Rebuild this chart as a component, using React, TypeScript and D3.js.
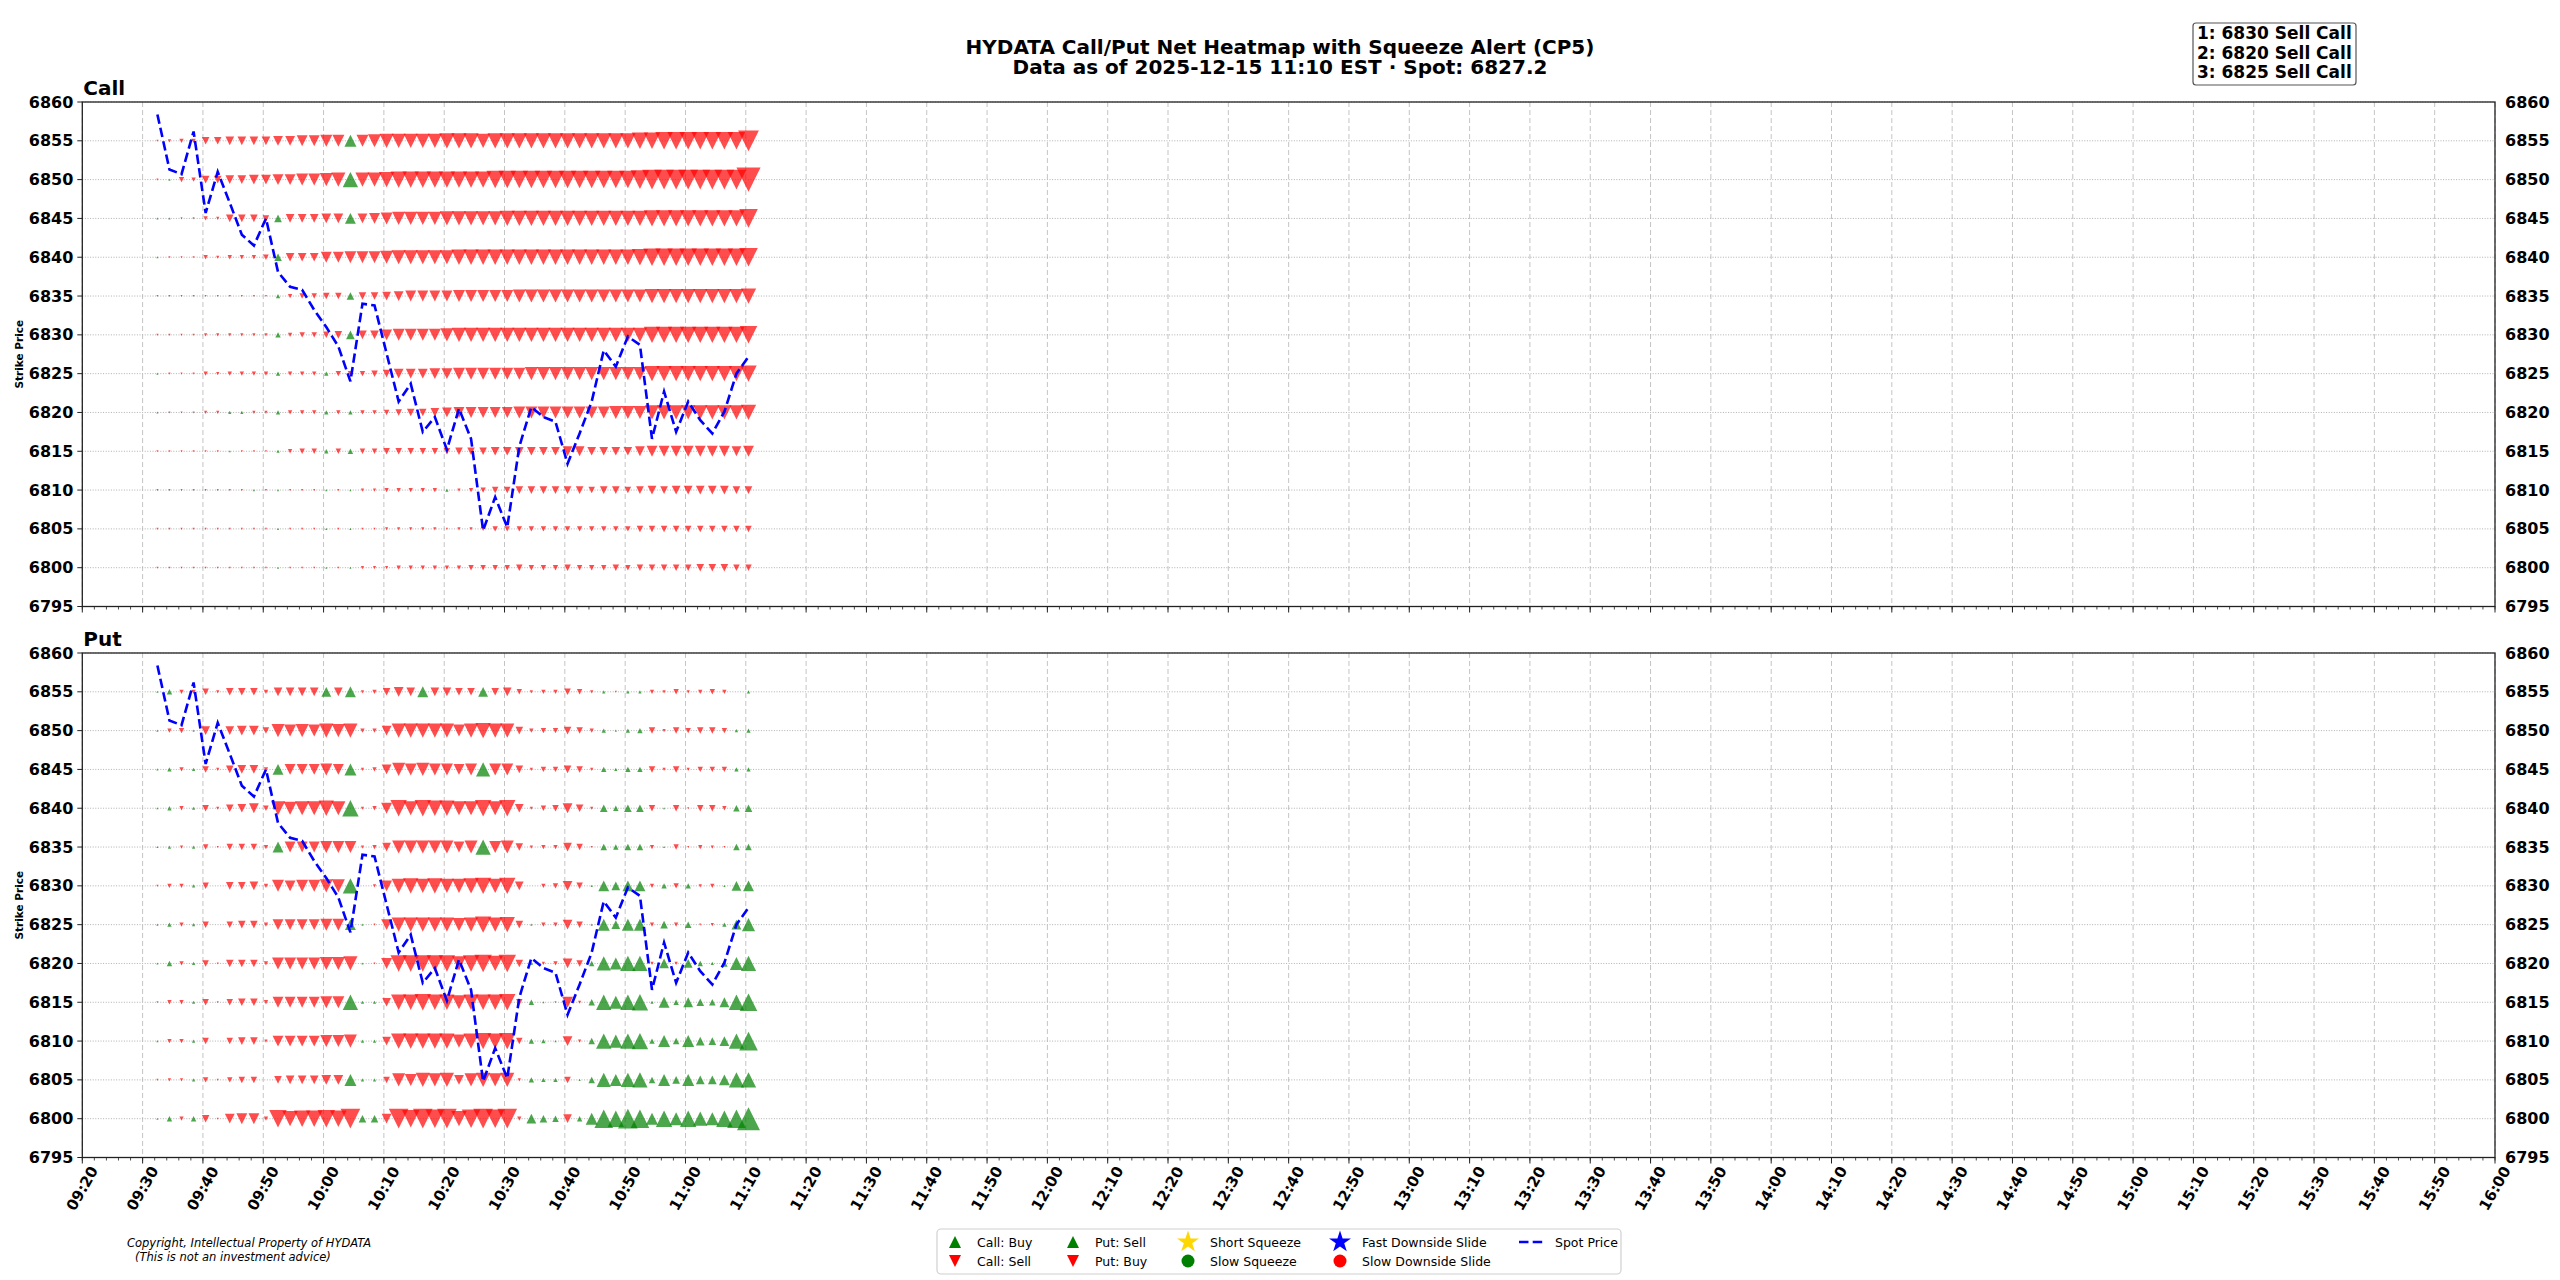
import React from "react";
import * as d3 from "d3";

// snapshot times (each snapshot is stamped ~27s into the minute)
const TIMES = [
  "09:32", "09:34", "09:36", "09:38", "09:40", "09:42", "09:44", "09:46", "09:48", "09:50",
  "09:52", "09:54", "09:56", "09:58", "10:00", "10:02", "10:04", "10:06", "10:08", "10:10",
  "10:12", "10:14", "10:16", "10:18", "10:20", "10:22", "10:24", "10:26", "10:28", "10:30",
  "10:32", "10:34", "10:36", "10:38", "10:40", "10:42", "10:44", "10:46", "10:48", "10:50",
  "10:52", "10:54", "10:56", "10:58", "11:00", "11:02", "11:04", "11:06", "11:08", "11:10",
];
const SNAP_SECONDS = 27;

const SPOT = [
  6858.4, 6851.3, 6850.7, 6856.2, 6845.7, 6851.0, 6847.0, 6842.9, 6841.5, 6845.0,
  6838.1, 6836.2, 6835.8, 6833.2, 6831.0, 6828.5, 6824.0, 6834.0, 6833.8, 6827.6,
  6821.4, 6823.7, 6817.5, 6819.4, 6815.2, 6820.5, 6816.6, 6804.8, 6809.1, 6805.2,
  6815.6, 6820.7, 6819.4, 6818.8, 6813.4, 6817.3, 6821.4, 6828.0, 6825.9, 6829.8,
  6828.7, 6816.6, 6822.7, 6817.5, 6821.4, 6819.0, 6817.3, 6820.1, 6825.0, 6827.2,
];

const STRIKES = [6855, 6850, 6845, 6840, 6835, 6830, 6825, 6820, 6815, 6810, 6805, 6800];
const Y_TICKS = [6795, 6800, 6805, 6810, 6815, 6820, 6825, 6830, 6835, 6840, 6845, 6850, 6855, 6860];

// net flow per strike, one value per snapshot (+ = up triangle / green, - = down / red)
const CALL_6855 = [-1, -4, -9, -9, -36, -36, -49, -49, -49, -49, -64, -64, -81, -81, -100, -100, 100, -100, -121, -144, -144, -144, -144, -144, -169, -169, -169, -144, -169, -169, -169, -169, -169, -169, -169, -169, -169, -169, -169, -169, -196, -196, -225, -225, -225, -225, -225, -225, -225, -324];
const CALL_6850 = [-1, 1, -16, -9, -36, -36, -49, -49, -64, -64, -81, -81, -100, -100, -121, -144, 169, -144, -144, -169, -196, -196, -196, -196, -196, -196, -196, -196, -225, -225, -225, -225, -225, -225, -225, -225, -225, -225, -225, -225, -256, -289, -289, -289, -289, -289, -289, -289, -289, -441];
const CALL_6845 = [1, 1, -1, -1, -9, -4, -36, -36, -36, -25, 36, -49, -49, -49, -64, -64, 81, -64, -81, -100, -121, -121, -121, -121, -144, -144, -144, -144, -144, -169, -169, -169, -169, -169, -169, -169, -169, -169, -169, -169, -169, -196, -196, -196, -196, -196, -196, -196, -196, -256];
const CALL_6840 = [1, -1, -1, -1, -9, -4, -9, -9, -9, -16, 36, -49, -49, -49, -81, -81, -100, -100, -100, -121, -144, -144, -144, -144, -144, -169, -169, -169, -169, -169, -169, -169, -169, -169, -169, -169, -169, -169, -169, -169, -196, -225, -225, -225, -225, -225, -225, -225, -225, -256];
const CALL_6835 = [-1, -1, -1, -1, -1, -1, -1, -1, -1, -1, 9, -9, -16, -16, -25, -25, 36, -36, -36, -49, -64, -81, -81, -81, -81, -100, -100, -100, -100, -100, -121, -121, -121, -121, -121, -121, -121, -121, -121, -121, -121, -144, -144, -144, -144, -144, -144, -144, -144, -169];
const CALL_6830 = [-1, -1, -1, -1, -4, -4, -4, -4, -4, -4, 16, -9, -16, -16, -25, -36, 49, -49, -49, -81, -100, -100, -100, -100, -121, -144, -144, -144, -144, -144, -144, -144, -144, -144, -144, -144, -144, -144, -144, -144, -144, -196, -196, -196, -196, -196, -196, -196, -196, -225];
const CALL_6825 = [1, -1, -1, -1, -9, -4, -9, -9, -9, -9, 9, -9, -9, -9, 9, -16, -16, -16, -25, -36, -64, -64, -64, -81, -81, -100, -100, -100, -100, -100, -100, -121, -121, -121, -121, -121, -121, -121, -121, -121, -121, -169, -169, -169, -169, -169, -169, -169, -169, -196];
const CALL_6820 = [1, -1, -1, -1, -4, -4, 4, 4, -4, -4, 9, -9, -9, -9, 9, -9, 9, -9, -9, -16, -25, -36, -36, -49, -64, -81, -81, -81, -81, -81, -100, -100, -100, -100, -100, -100, -100, -100, -121, -121, -121, -144, -144, -144, -144, -144, -144, -144, -144, -169];
const CALL_6815 = [-1, -1, -1, -1, -1, -1, 1, -1, -1, -1, 4, -9, -16, -16, 9, -16, 16, -16, -16, -25, -25, -25, -25, -25, -25, -36, -36, -36, -49, -49, -49, -49, -49, -49, -64, -64, -49, -49, -49, -49, -64, -81, -81, -81, -81, -81, -81, -81, -64, -81];
const CALL_6810 = [-1, -1, -1, -1, -1, -1, -1, -1, 1, -1, 1, -1, -1, -1, 1, -1, 1, -4, -4, -9, -9, -9, -9, -9, 4, -4, -9, -16, -25, -25, -36, -36, -36, -36, -36, -36, -25, -36, -36, -25, -36, -49, -36, -49, -49, -49, -49, -49, -36, -36];
const CALL_6805 = [-1, -1, -1, -1, -1, -1, -1, -1, -1, -1, 1, -1, -1, -1, 1, -1, 1, -1, -1, -4, -4, -4, -4, -4, -1, -4, -4, -9, -16, -16, -16, -16, -16, -16, -16, -16, -16, -16, -16, -16, -25, -25, -25, -25, -25, -25, -25, -25, -25, -25];
const CALL_6800 = [-1, -1, -1, -1, -1, -1, -1, -1, -1, -1, 1, -1, -1, -1, 1, -1, 1, -4, -4, -4, -9, -9, -9, -9, -9, -9, -16, -16, -16, -16, -25, -16, -16, -16, -25, -16, -16, -16, -25, -16, -25, -25, -25, -25, -25, -36, -36, -36, -25, -25];

const PUT_6855 = [1, 16, -9, -9, -25, -4, -36, -36, -36, -9, -49, -49, -49, -49, 64, -49, 81, -4, -9, -36, -64, -49, 81, -49, -49, -36, -36, 64, -36, -49, -16, -4, -9, -9, -25, -16, -4, 4, -1, 4, 4, -9, -4, -16, -4, -9, -16, -9, 0, 4];
const PUT_6850 = [1, -9, -16, 1, -49, -1, -49, -64, -64, -25, -121, -100, -121, -100, -144, -121, -144, -9, -9, -64, -144, -144, -144, -144, -144, -100, -144, -169, -144, -144, -36, -9, -16, -16, -36, -25, -9, 9, 1, 9, 16, -25, -4, -25, -16, -25, -25, -16, 4, 9];
const PUT_6845 = [1, 9, -9, 4, -25, -4, -36, -49, -49, -9, 81, -81, -81, -81, -100, -81, 100, -4, -9, -64, -121, -100, -121, -100, -100, -81, -100, 144, -100, -100, -36, -4, -16, -16, -36, -25, -4, 16, 4, 16, 16, -25, -4, -25, -4, -16, -16, -16, 9, 9];
const PUT_6840 = [1, 9, -9, 4, -25, -4, -36, -49, -64, -16, -144, -121, -144, -144, -169, -144, 196, -4, -9, -81, -196, -144, -196, -169, -169, -144, -144, -196, -144, -196, -49, -4, -16, -25, -64, -36, -4, 36, 16, 36, 36, -25, 1, -25, -1, -25, -25, -9, 25, 36];
const PUT_6835 = [1, 4, -4, 4, -16, -1, -25, -25, -25, -9, 81, -81, -81, -81, -100, -100, -100, -4, -9, -49, -121, -121, -121, -121, -121, -81, -121, 169, -100, -121, -36, -4, -9, -9, -49, -25, -1, 25, 16, 25, 25, -9, 1, -16, -1, -9, -4, -1, 25, 25];
const PUT_6830 = [-1, -9, -9, 4, -25, 0, -36, -36, -49, -9, -100, -81, -100, -100, -121, -121, 169, 0, -4, -81, -144, -169, -144, -169, -144, -144, -169, -196, -144, -196, -49, 0, -9, -16, -64, -25, 1, 81, 49, 81, 81, -9, 16, -16, 16, -4, -9, 1, 64, 81];
const PUT_6825 = [1, 9, -9, 4, -25, 0, -25, -36, -36, -9, -81, -81, -81, -81, -100, -100, 81, 1, -1, -81, -144, -144, -144, -144, -144, -121, -144, -196, -144, -169, -36, 1, -9, -9, -64, -25, 1, 100, 49, 100, 100, -9, 36, -9, 25, -1, -4, 9, 64, 121];
const PUT_6820 = [1, 16, -9, 4, -25, -1, -36, -36, -36, -9, -100, -100, -100, -100, -121, -121, -144, 1, -1, -81, -196, -196, -196, -196, -196, -144, -196, -225, -169, -225, -36, 4, -4, -9, -64, -25, 16, 144, 100, 169, 169, -4, 64, -4, 49, 16, 4, 25, 121, 169];
const PUT_6815 = [-1, -9, -9, 4, -25, -1, -25, -36, -36, -9, -81, -81, -81, -81, -100, -100, 169, 4, 4, -49, -169, -169, -196, -169, -169, -144, -169, -169, -169, -196, -25, 16, 1, -1, -81, -4, 25, 169, 121, 169, 196, 4, 81, 16, 64, 36, 25, 64, 169, 225];
const PUT_6810 = [1, -9, -9, 4, -25, 0, -25, -36, -36, -4, -81, -81, -81, -81, -100, -100, -121, 4, 4, -49, -169, -169, -169, -169, -169, -121, -169, -196, -169, -196, -25, 16, 9, 1, -64, -4, 25, 169, 121, 169, 196, 16, 100, 25, 100, 49, 36, 64, 169, 256];
const PUT_6805 = [-1, -4, -4, 4, -16, -1, -16, -25, -25, 0, -36, -49, -49, -49, -64, -64, 100, 4, 4, -25, -121, -100, -144, -121, -144, -64, -121, -144, -121, -144, -4, 16, 9, 9, -25, 1, 25, 144, 100, 144, 169, 25, 100, 36, 100, 49, 49, 81, 169, 169];
const PUT_6800 = [1, 16, -9, 16, -36, -1, -64, -81, -81, -9, -225, -169, -196, -196, -225, -196, -289, 36, 36, -64, -289, -225, -289, -256, -289, -169, -256, -289, -256, -289, -9, 64, 36, 25, -49, 16, 100, 256, 196, 289, 256, 100, 196, 121, 196, 144, 121, 196, 256, 400];

const CALL_ROWS = [CALL_6855, CALL_6850, CALL_6845, CALL_6840, CALL_6835, CALL_6830, CALL_6825, CALL_6820, CALL_6815, CALL_6810, CALL_6805, CALL_6800];
const PUT_ROWS = [PUT_6855, PUT_6850, PUT_6845, PUT_6840, PUT_6835, PUT_6830, PUT_6825, PUT_6820, PUT_6815, PUT_6810, PUT_6805, PUT_6800];

const ALERTS = ["1: 6830 Sell Call", "2: 6820 Sell Call", "3: 6825 Sell Call"];
const TITLE = "HYDATA Call/Put Net Heatmap with Squeeze Alert (CP5)";
const SUBTITLE = "Data as of 2025-12-15 11:10 EST \u00b7 Spot: 6827.2";

// layout
const W = 2560;
const H = 1280;
const X0 = 82.3;
const X1 = 2495;
const PANEL_H = 504.5;
const FONT = "DejaVu Sans";
const GREEN = "#008000";
const RED = "#ff0000";

const parse = d3.timeParse("%H:%M");
const times = TIMES.map((t) => d3.timeSecond.offset(parse(t)!, SNAP_SECONDS));
const x = d3.scaleTime().domain([parse("09:20")!, parse("16:00")!]).range([X0, X1]);
const size = d3.scaleSqrt().domain([0, 400]).range([0, 22]);
const majorTicks = x.ticks(d3.timeMinute.every(10)!);
const minorTicks = x.ticks(d3.timeMinute.every(2)!);
const fmt = d3.timeFormat("%H:%M");

const tri = (cx: number, cy: number, s: number, up: boolean) => {
  const h = s / 2;
  return up
    ? `M${cx},${cy - h}L${cx + h},${cy + h}L${cx - h},${cy + h}Z`
    : `M${cx},${cy + h}L${cx + h},${cy - h}L${cx - h},${cy - h}Z`;
};

const Panel = ({ top, title, rows, labels }: { top: number; title: string; rows: number[][]; labels: boolean }) => {
  const bottom = top + PANEL_H;
  const y = d3.scaleLinear().domain([6795, 6860]).range([bottom, top]);
  const spotLine = d3
    .line<number>()
    .x((_, i) => x(times[i]))
    .y((d) => y(d));

  return (
    <g>
      {/* grid */}
      {majorTicks.map((t, i) => (
        <line key={"vg" + i} x1={x(t)} x2={x(t)} y1={top} y2={bottom} stroke="#c4c4c4" strokeWidth={1} strokeDasharray="5,3" />
      ))}
      {Y_TICKS.map((v) => (
        <line key={"hg" + v} x1={X0} x2={X1} y1={y(v)} y2={y(v)} stroke="#b0b0b0" strokeWidth={1} strokeDasharray="1,1.6" />
      ))}

      {/* markers */}
      {rows.map((row, r) =>
        row.map((v, i) =>
          v === 0 ? null : (
            <path
              key={`m${r}-${i}`}
              d={tri(x(times[i]), y(STRIKES[r]), size(Math.abs(v)) + 1, v > 0)}
              fill={v > 0 ? GREEN : RED}
              fillOpacity={0.7}
            />
          )
        )
      )}

      {/* spot */}
      <path d={spotLine(SPOT) || ""} fill="none" stroke="#0000ff" strokeWidth={2.6} strokeDasharray="9.5,4.2" />

      {/* frame */}
      <rect x={X0} y={top} width={X1 - X0} height={PANEL_H} fill="none" stroke="#222" strokeWidth={1.3} />

      {/* x ticks */}
      {minorTicks.map((t, i) => (
        <line key={"mt" + i} x1={x(t)} x2={x(t)} y1={bottom} y2={bottom + 3} stroke="#222" strokeWidth={0.8} />
      ))}
      {majorTicks.map((t, i) => (
        <line key={"Mt" + i} x1={x(t)} x2={x(t)} y1={bottom} y2={bottom + 6} stroke="#222" strokeWidth={1} />
      ))}
      {labels &&
        majorTicks.map((t, i) => {
          const cx = x(t);
          const cy = bottom + 31;
          return (
            <text
              key={"xl" + i}
              x={cx}
              y={cy}
              transform={`rotate(-60 ${cx} ${cy})`}
              textAnchor="middle"
              dominantBaseline="central"
              fontFamily={FONT}
              fontWeight="bold"
              fontSize={15}
            >
              {fmt(t)}
            </text>
          );
        })}

      {/* y ticks */}
      {Y_TICKS.map((v) => (
        <g key={"yt" + v}>
          <line x1={X0 - 5} x2={X0} y1={y(v)} y2={y(v)} stroke="#222" strokeWidth={1} />
          <text x={X0 - 9} y={y(v)} textAnchor="end" dominantBaseline="central" fontFamily={FONT} fontWeight="bold" fontSize={16}>
            {v}
          </text>
          <text x={X1 + 10} y={y(v)} textAnchor="start" dominantBaseline="central" fontFamily={FONT} fontWeight="bold" fontSize={16}>
            {v}
          </text>
        </g>
      ))}

      <text
        x={19}
        y={(top + bottom) / 2}
        transform={`rotate(-90 19 ${(top + bottom) / 2})`}
        textAnchor="middle"
        dominantBaseline="central"
        fontFamily={FONT}
        fontWeight="bold"
        fontSize={10.5}
      >
        Strike Price
      </text>
      <text x={X0 + 1} y={top - 7} fontFamily={FONT} fontWeight="bold" fontSize={20}>
        {title}
      </text>
    </g>
  );
};

const star = d3.symbol(d3.symbolStar, 150)() || "";

const Legend = () => {
  const r1 = 1242;
  const r2 = 1261;
  const fs = 12.5;
  const item = (mx: number, my: number, mark: React.ReactNode, label: string, key: string) => (
    <g key={key}>
      <g transform={`translate(${mx},${my})`}>{mark}</g>
      <text x={mx + 22} y={my} dominantBaseline="central" fontFamily={FONT} fontSize={fs}>
        {label}
      </text>
    </g>
  );
  return (
    <g>
      <rect x={937} y={1229} width={684} height={45} rx={4} fill="#fff" stroke="#d0d0d0" strokeWidth={1.2} />
      {item(955, r1, <path d={tri(0, 0, 12, true)} fill={GREEN} />, "Call: Buy", "a")}
      {item(955, r2, <path d={tri(0, 0, 12, false)} fill={RED} />, "Call: Sell", "b")}
      {item(1073, r1, <path d={tri(0, 0, 12, true)} fill={GREEN} />, "Put: Sell", "c")}
      {item(1073, r2, <path d={tri(0, 0, 12, false)} fill={RED} />, "Put: Buy", "d")}
      {item(1188, r1, <path d={star} fill="#FFD700" />, "Short Squeeze", "e")}
      {item(1188, r2, <circle r={6.5} fill={GREEN} />, "Slow Squeeze", "f")}
      {item(1340, r1, <path d={star} fill="#0000ff" />, "Fast Downside Slide", "g")}
      {item(1340, r2, <circle r={6.5} fill={RED} />, "Slow Downside Slide", "h")}
      <line x1={1519} x2={1544} y1={r1} y2={r1} stroke="#0000ff" strokeWidth={2.6} strokeDasharray="9.5,4.2" />
      <text x={1555} y={r1} dominantBaseline="central" fontFamily={FONT} fontSize={fs}>
        Spot Price
      </text>
    </g>
  );
};

export default function App() {
  return (
    <svg width={W} height={H} style={{ position: "absolute", left: 0, top: 0, background: "#fff" }}>
      <rect width={W} height={H} fill="#fff" />
      <text x={1280} y={54} textAnchor="middle" fontFamily={FONT} fontWeight="bold" fontSize={20}>
        {TITLE}
      </text>
      <text x={1280} y={74} textAnchor="middle" fontFamily={FONT} fontWeight="bold" fontSize={20}>
        {SUBTITLE}
      </text>

      <rect x={2193} y={23} width={163} height={62} rx={3} fill="#fff" stroke="#555" strokeWidth={1.2} />
      {ALERTS.map((a, i) => (
        <text key={a} x={2197} y={39 + i * 19.5} fontFamily={FONT} fontWeight="bold" fontSize={17}>
          {a}
        </text>
      ))}

      <Panel top={102} title="Call" rows={CALL_ROWS} labels={false} />
      <Panel top={653} title="Put" rows={PUT_ROWS} labels={true} />

      <text x={127} y={1247} fontFamily={FONT} fontStyle="italic" fontSize={11.5}>
        Copyright, Intellectual Property of HYDATA
      </text>
      <text x={135} y={1261} fontFamily={FONT} fontStyle="italic" fontSize={11.5}>
        (This is not an investment advice)
      </text>
      <Legend />
    </svg>
  );
}
